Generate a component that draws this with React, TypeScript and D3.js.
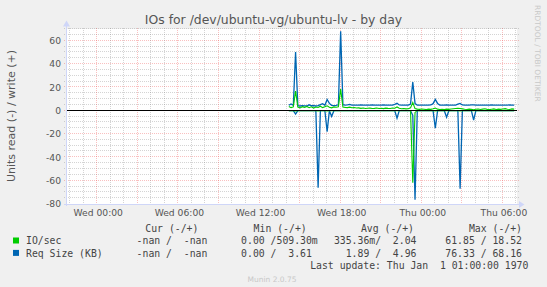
import React from 'react';
import * as d3 from 'd3';

const W = 547;
const H = 287;

// data: samples every 10 minutes starting Wed 14:10 (hours from Wed 00:00)
const startHour = 14 + 10 / 60;
const stepHours = 1 / 6;

const ioWrite = [
  3.5, 2.6, 3.2, 16.7, 3.0, 2.4, 3.4, 2.8, 3.6, 2.5,
  3.3, 2.2, 3.1, 2.7, 3.8, 2.6, 3.4, 4.2, 3.0, 2.4,
  3.2, 2.9, 3.4, 18.52, 3.2, 2.8, 2.6, 3.0, 2.5, 2.7,
  2.3, 2.4, 2.0, 2.3, 1.9, 2.1, 2.2, 1.8, 2.0, 2.3,
  1.9, 2.1, 1.8, 2.2, 2.0, 1.9, 2.3, 2.1, 3.2, 2.0,
  1.6, 1.8, 1.5, 1.7, 2.4, 7.0, 1.8, 1.3, 1.1, 1.4,
  1.2, 0.9, 1.3, 1.1, 1.6, 2.2, 1.3, 1.0, 1.2, 0.9,
  1.3, 1.1, 1.4, 1.7, 1.9, 2.1, 1.8, 1.5, 1.2, 1.0,
  1.3, 1.1, 0.8, 1.2, 1.4, 1.0, 1.3, 1.6, 1.1, 0.9,
  1.2, 1.5, 1.0, 1.3, 1.1, 1.4, 1.7, 1.2, 1.0, 1.5,
  1.3,
];

const ioRead = [
  0, 0, 0, 0.2, 0, 0, 0, 0, 0, 0,
  0, 0, 0, 0.3, 0, 0, 0, 0.2, 0, 0,
  0, 0, 0, 0, 0, 0, 0, 0, 0, 0,
  0, 0, 0, 0, 0, 0, 0, 0, 0, 0,
  0, 0, 0, 0, 0, 0, 0, 0, 0.1, 0,
  0, 0, 0, 0, 0, 61.85, 1.5, 0, 0, 0,
  0, 0, 0, 0, 0, 0.3, 0, 0, 0, 0,
  0.1, 0, 0, 0, 0, 0, 0.3, 0, 0, 0,
  0, 0, 0.1, 0, 0, 0, 0, 0, 0, 0,
  0, 0, 0, 0, 0, 0, 0, 0, 0, 0,
  0,
];

const reqWrite = [
  4.6, 5.8, 4.5, 50.3, 4.2, 4.0, 4.3, 4.1, 4.0, 5.0,
  4.2, 4.4, 4.0, 4.3, 5.2, 6.0, 4.6, 9.6, 6.2, 4.6,
  4.4, 4.5, 5.0, 68.16, 5.2, 4.8, 4.9, 5.3, 4.8, 4.7,
  4.8, 4.8, 4.9, 4.8, 4.7, 4.8, 4.8, 4.9, 4.8, 4.8,
  4.7, 4.8, 4.9, 4.8, 4.8, 4.7, 4.8, 5.4, 6.3, 4.9,
  4.8, 4.8, 4.7, 4.8, 5.6, 24.6, 6.0, 4.8, 4.7, 4.8,
  4.8, 4.7, 4.8, 4.9, 6.0, 9.6, 6.2, 4.8, 4.7, 4.8,
  4.9, 4.8, 4.7, 4.8, 4.8, 5.6, 6.2, 4.9, 4.8, 4.7,
  4.8, 5.0, 4.9, 4.8, 4.7, 4.8, 4.8, 4.7, 4.8, 4.8,
  4.9, 4.8, 4.7, 4.8, 4.8, 4.7, 4.8, 4.8, 4.9, 4.8,
  4.8,
];

const reqRead = [
  0, 0, 0, 3, 0, 0, 0, 0, 0, 0,
  0, 0, 0, 66, 0, 0, 0, 18, 0, 5,
  0, 0, 0, 0, 0, 0, 0, 0, 0, 0,
  0, 0, 0, 0, 0, 0, 0, 0, 0, 0,
  0, 0, 0, 0, 0, 0, 0, 0, 6.5, 0,
  0, 0, 0, 0, 0, 4, 76.33, 0, 0, 0,
  0, 0, 0, 0, 0, 15, 0, 0, 0, 0,
  5.6, 0, 0, 0, 0, 0, 67, 0, 0, 0,
  0, 0, 8, 0, 0, 0, 0, 0, 0, 0,
  0, 0, 0, 0, 0, 0, 0, 0, 0, 0,
  0,
];

const xTickHours = [0, 6, 12, 18, 24, 30];
const xTickLabels = ['Wed 00:00', 'Wed 06:00', 'Wed 12:00', 'Wed 18:00', 'Thu 00:00', 'Thu 06:00'];
const yTicks = [-80, -60, -40, -20, 0, 20, 40, 60];

const legendHeaders = ['Cur (-/+)', 'Min (-/+)', 'Avg (-/+)', 'Max (-/+)'];
const legendNames = ['IO/sec', 'Req Size (KB)'];
const legendColors = ['#00cc00', '#0066b3'];
const legendValues = [
  ['  -nan /  -nan ', '  0.00 /509.30m', '335.36m/  2.04 ', ' 61.85 / 18.52 '],
  ['  -nan /  -nan ', '  0.00 /  3.61 ', '  1.89 /  4.96 ', ' 76.33 / 68.16 '],
];

const PL = 66;
const PR = 517;
const PT = 29;
const PB = 204;

const x = d3.scaleLinear().domain([-2.31, 31.04]).range([PL, PR]);
const y = d3.scaleLinear().domain([-80, 70]).range([PB, PT]);

const hourOf = (i: number) => startHour + i * stepHours;

const lineGen = (sign: number) =>
  d3
    .line<number>()
    .x((_, i) => x(hourOf(i)))
    .y((d) => y(sign * d));

const crisp = (v: number) => Math.round(v) + 0.5;

const MAJOR = 'rgba(235,60,60,0.32)';
const MINOR = 'rgba(120,120,120,0.32)';

export default function App() {
  const hours = d3.range(Math.ceil(x.domain()[0]), Math.floor(x.domain()[1]) + 1);
  const yGrid = d3.range(-75, 71, 5);
  const sans = 'DejaVu Sans';
  const mono = 'DejaVu Sans Mono';
  const colStarts = [124.8, 229.3, 333.9, 439.4];
  const headStarts = [145.3, 253.6, 360.9, 468.9];
  const rowY = [244.2, 256.6];

  return (
    <svg
      width={W}
      height={H}
      viewBox={`0 0 ${W} ${H}`}
      style={{ position: 'absolute', left: 0, top: 0, display: 'block' }}
    >
      <rect x={0} y={0} width={W} height={H} fill="#f0f0f0" />
      <rect x={PL} y={PT} width={PR - PL} height={PB - PT} fill="#ffffff" />

      {/* horizontal grid */}
      {yGrid.map((v) => {
        const major = v % 20 === 0;
        const yy = crisp(y(v)) - 1;
        return (
          <line
            key={'h' + v}
            x1={PL - 2}
            x2={PR + 2}
            y1={yy}
            y2={yy}
            stroke={major ? MAJOR : MINOR}
            strokeDasharray="1,1"
            strokeWidth={1}
          />
        );
      })}
      {/* vertical grid */}
      {hours.map((h) => {
        const major = h % 3 === 0;
        const xx = crisp(x(h)) - 1;
        return (
          <line
            key={'v' + h}
            x1={xx}
            x2={xx}
            y1={PT - 1}
            y2={PB + 2}
            stroke={major ? MAJOR : MINOR}
            strokeDasharray="1,1"
            strokeWidth={1}
          />
        );
      })}

      {/* data */}
      <path d={lineGen(-1)(reqRead) || ''} fill="none" stroke="#0066b3" strokeWidth={1.3} />
      <path d={lineGen(1)(reqWrite) || ''} fill="none" stroke="#0066b3" strokeWidth={1.3} />
      <path d={lineGen(-1)(ioRead) || ''} fill="none" stroke="#00cc00" strokeWidth={1.1} />
      <path d={lineGen(1)(ioWrite) || ''} fill="none" stroke="#00cc00" strokeWidth={1.1} />

      {/* zero line */}
      <line x1={PL} x2={PR} y1={crisp(y(0)) - 1} y2={crisp(y(0)) - 1} stroke="#000" strokeWidth={1} />

      {/* axes */}
      <line x1={PL + 0.5} x2={PL + 0.5} y1={PB + 2} y2={PT - 4} stroke="#CFD6F8" strokeWidth={1} />
      <path d={`M${PL + 0.5},${PT - 8.5} L${PL - 3},${PT - 2.5} L${PL + 4},${PT - 2.5} Z`} fill="#CFD6F8" />
      <line x1={PL - 2} x2={PR + 3} y1={PB + 0.5} y2={PB + 0.5} stroke="#CFD6F8" strokeWidth={1} />
      <path d={`M${PR + 7.5},${PB + 0.5} L${PR + 2},${PB - 3} L${PR + 2},${PB + 4} Z`} fill="#CFD6F8" />

      {/* y labels */}
      {yTicks.map((v) => (
        <text
          key={'yl' + v}
          x={61}
          y={y(v) + 3.3}
          textAnchor="end"
          fontFamily={sans}
          fontSize={9.2}
          fill="#555"
        >
          {v}
        </text>
      ))}
      {/* x labels */}
      {xTickHours.map((h, i) => (
        <text
          key={'xl' + h}
          x={x(h) + 1}
          y={216.2}
          textAnchor="middle"
          fontFamily={sans}
          fontSize={9.2}
          fill="#555"
        >
          {xTickLabels[i]}
        </text>
      ))}

      {/* title */}
      <text x={273.5} y={23.5} textAnchor="middle" fontFamily={sans} fontSize={12.4} fill="#555">
        IOs for /dev/ubuntu-vg/ubuntu-lv - by day
      </text>
      {/* y axis title */}
      <text
        transform={`translate(14.8, 116) rotate(-90)`}
        textAnchor="middle"
        fontFamily={sans}
        fontSize={11}
        fill="#555"
      >
        Units read (-) / write (+)
      </text>
      {/* watermark right */}
      <text
        transform={`translate(534.5, 5) rotate(90)`}
        textAnchor="start"
        fontFamily={sans}
        fontSize={7.5}
        fill="#c8c8c8"
      >
        RRDTOOL / TOBI OETIKER
      </text>

      {/* legend */}
      {legendHeaders.map((t, i) => (
        <text
          key={'lh' + i}
          x={headStarts[i]}
          y={231.8}
          fontFamily={mono}
          fontSize={9.8}
          fill="#444"
          style={{ whiteSpace: 'pre' }}
        >
          {t}
        </text>
      ))}
      {legendNames.map((n, r) => (
        <g key={'lr' + r}>
          <rect x={13} y={rowY[r] - 6.7} width={6} height={6} fill={legendColors[r]} />
          <text x={26} y={rowY[r]} fontFamily={mono} fontSize={9.8} fill="#444" style={{ whiteSpace: 'pre' }}>
            {n}
          </text>
          {legendValues[r].map((v, c) => (
            <text
              key={'lv' + c}
              x={colStarts[c]}
              y={rowY[r]}
              fontFamily={mono}
              fontSize={9.8}
              fill="#444"
              style={{ whiteSpace: 'pre' }}
            >
              {v}
            </text>
          ))}
        </g>
      ))}
      <text
        x={528.4}
        y={269}
        textAnchor="end"
        fontFamily={mono}
        fontSize={9.8}
        fill="#444"
        style={{ whiteSpace: 'pre' }}
      >
        {'Last update: Thu Jan  1 01:00:00 1970'}
      </text>
      <text x={272} y={281.5} textAnchor="middle" fontFamily={sans} fontSize={7.5} fill="#c8c8c8">
        Munin 2.0.75
      </text>
    </svg>
  );
}
